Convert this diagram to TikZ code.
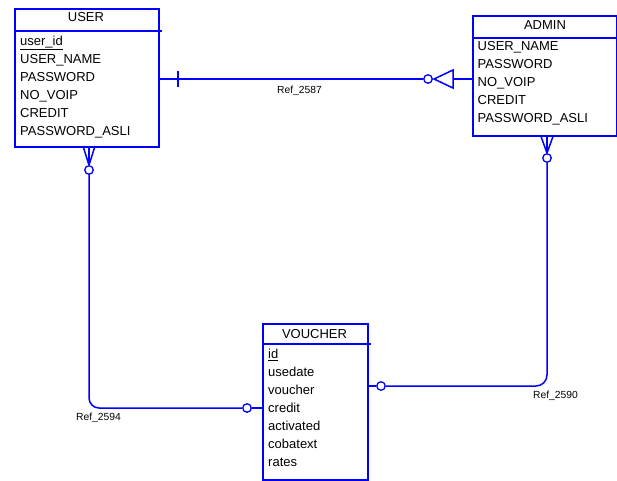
\documentclass[tikz,border=0pt]{standalone}
\usepackage{fontspec}
\setmainfont{Liberation Sans}
\usetikzlibrary{calc}
\definecolor{erblue}{RGB}{0,0,255}
\tikzset{
  entity/.style={draw=erblue, line width=1.5pt, rectangle, inner sep=0pt, anchor=north west},
  rel/.style={draw=erblue, line width=1.5pt},
  attr/.style={anchor=base west, inner sep=0pt, font=\fontsize{13}{13}\selectfont},
  etitle/.style={anchor=base, inner sep=0pt, font=\fontsize{13}{13}\selectfont},
  reflabel/.style={anchor=base west, inner sep=0pt, font=\fontsize{10.3}{10.3}\selectfont},
  opt/.style={draw=erblue, line width=1.3pt, fill=white, circle, inner sep=0pt, minimum size=8.5pt},
}
\begin{document}
\begin{tikzpicture}[x=1pt,y=-1pt]
\useasboundingbox (0,0) rectangle (617,480);

% USER entity
\node[entity, minimum width=144pt, minimum height=138pt] (user) at (14,8) {};
\draw[rel] ($(user.north west)+(0,23)$) -- ($(user.north east)+(2,23)$);
\node[etitle] (usert) at (86,21.5) {USER};
\node[attr] (u1) at (20,45.5) {\underline{user\_id}};
\node[attr] (u2) at (20,63.4) {USER\_NAME};
\node[attr] (u3) at (20,81.3) {PASSWORD};
\node[attr] (u4) at (20,99.2) {NO\_VOIP};
\node[attr] (u5) at (20,117.1) {CREDIT};
\node[attr] (u6) at (20,135) {PASSWORD\_ASLI};

% ADMIN entity
\node[entity, minimum width=144pt, minimum height=120pt] (admin) at (472,15) {};
\draw[rel] ($(admin.north west)+(0,23)$) -- ($(admin.north east)+(0,23)$);
\node[etitle] (admint) at (545,29.5) {ADMIN};
\node[attr] (a1) at (477.5,50) {USER\_NAME};
\node[attr] (a2) at (477.5,68.2) {PASSWORD};
\node[attr] (a3) at (477.5,86.4) {NO\_VOIP};
\node[attr] (a4) at (477.5,104.6) {CREDIT};
\node[attr] (a5) at (477.5,122.8) {PASSWORD\_ASLI};

% VOUCHER entity
\node[entity, minimum width=105pt, minimum height=156pt] (voucher) at (262,323) {};
\draw[rel] ($(voucher.north west)+(0,21)$) -- ($(voucher.north east)+(2,21)$);
\node[etitle] (vouchert) at (314.5,338) {VOUCHER};
\node[attr] (v1) at (268,358.7) {\underline{id}};
\node[attr] (v2) at (268,376.7) {usedate};
\node[attr] (v3) at (268,394.7) {voucher};
\node[attr] (v4) at (268,412.7) {credit};
\node[attr] (v5) at (268,430.7) {activated};
\node[attr] (v6) at (268,448.7) {cobatext};
\node[attr] (v7) at (268,466.7) {rates};

% Ref_2587 : USER -- ADMIN
\node[opt] (c1) at (428,79) {};
\coordinate (tri) at (434,79);
\coordinate (trib) at (453,79);
\draw[rel] (user.east |- c1) -- (c1.west);
\draw[rel] (178,71) -- (178,87);
\draw[rel, line join=miter] (tri) -- ($(trib)+(0,-9)$) -- ($(trib)+(0,9)$) -- cycle;
\draw[rel] (trib) -- (admin.west |- c1);
\node[reflabel] (l1) at (277,93) {Ref\_2587};

% Ref_2594 : USER -- VOUCHER
\node[opt] (c2) at (89,170) {};
\draw[rel] (83,146) -- (c2.north);
\draw[rel] (95,146) -- (c2.north);
\draw[rel] (89,146) -- (c2.north);
\node[opt] (c3) at (247,408) {};
\draw[rel, rounded corners=10pt] (c2.south) |- (c3.west);
\draw[rel] (c3.east) -- (voucher.west |- c3);
\node[reflabel] (l2) at (76,420) {Ref\_2594};

% Ref_2590 : ADMIN -- VOUCHER
\node[opt] (c4) at (547,158) {};
\draw[rel] (540.5,135) -- (c4.north);
\draw[rel] (553.5,135) -- (c4.north);
\draw[rel] (547,135) -- (c4.north);
\node[opt] (c5) at (381,386) {};
\draw[rel, rounded corners=11pt] (c4.south) |- (c5.east);
\draw[rel] (c5.west) -- (voucher.east |- c5);
\node[reflabel] (l3) at (533,398) {Ref\_2590};
\end{tikzpicture}
\end{document}
